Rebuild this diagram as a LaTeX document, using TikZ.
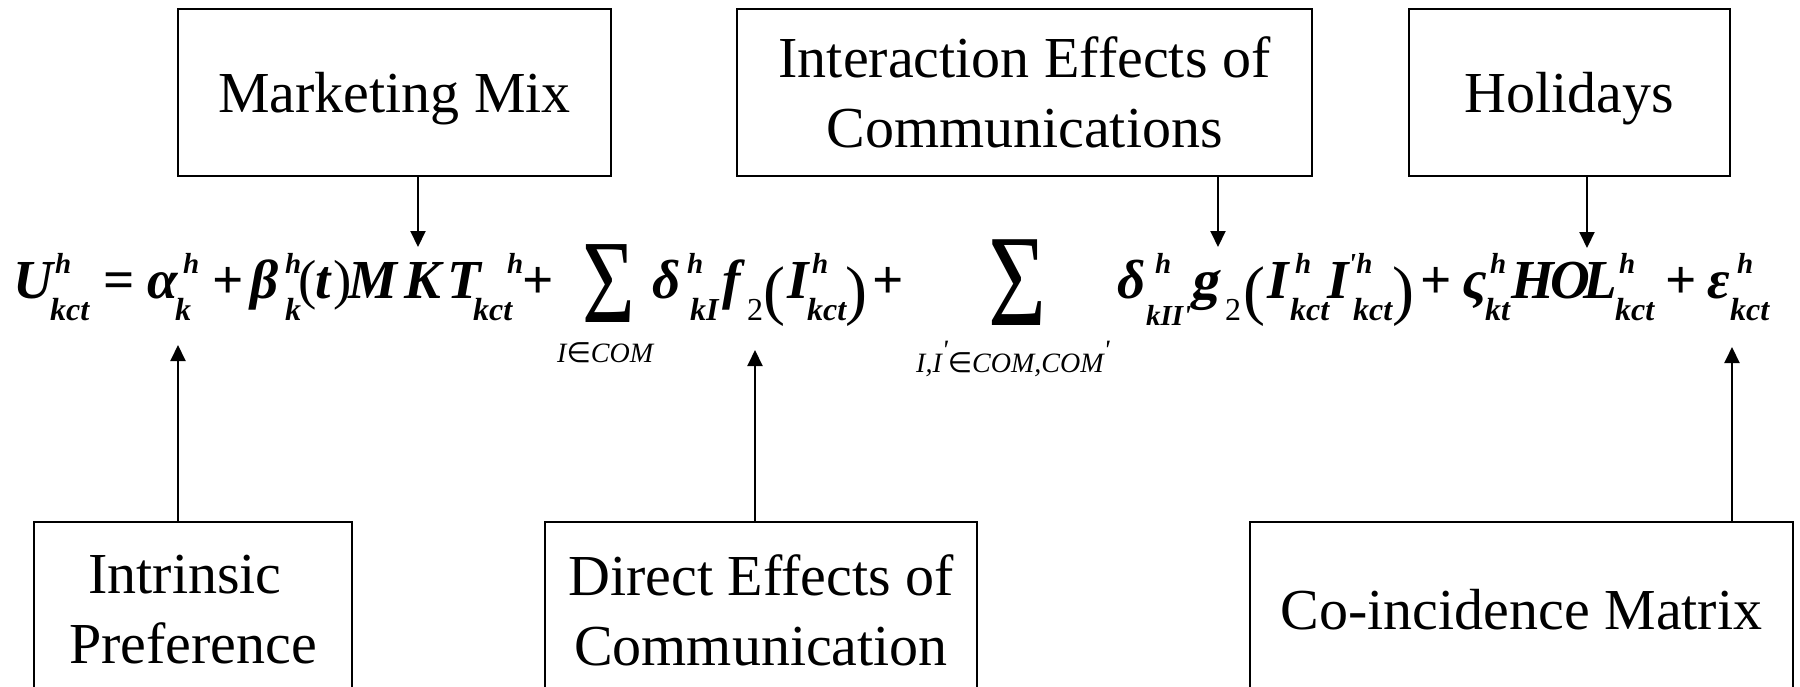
\documentclass[tikz,border=0pt]{standalone}
\usepackage{fontspec}
\setmainfont{Liberation Serif}
\newfontfamily\dejasans{DejaVu Sans}
\usetikzlibrary{arrows.meta}
\tikzset{
  box/.style={draw, line width=2pt, inner sep=0pt, align=center, font=\fontsize{58}{70}\selectfont},
  arr/.style={line width=2pt, -{Triangle[length=16pt,width=15pt]}},
  m/.style={inner sep=0pt, anchor=base west, font=\fontsize{55}{60}\selectfont\bfseries\itshape},
  op/.style={inner sep=0pt, anchor=base west, font=\fontsize{55}{60}\selectfont\bfseries},
  par/.style={inner sep=0pt, anchor=base west, font=\fontsize{55}{60}\selectfont},
  bigpar/.style={inner sep=0pt, anchor=base west, font=\fontsize{66}{70}\selectfont},
  sp/.style={inner sep=0pt, anchor=base west, font=\fontsize{29}{30}\selectfont\bfseries\itshape},
  sb/.style={inner sep=0pt, anchor=base west, font=\fontsize{32}{34}\selectfont\bfseries\itshape},
  sbn/.style={inner sep=0pt, anchor=base west, font=\fontsize{32}{34}\selectfont},
  lim/.style={inner sep=0pt, anchor=base west, font=\fontsize{28}{30}\selectfont\itshape},
  sig/.style={inner sep=0pt, anchor=base west, font=\fontsize{119}{120}\selectfont},
}
\begin{document}
\begin{tikzpicture}[x=1pt,y=-1pt]
\useasboundingbox (0,0) rectangle (1800,686);
\clip (0,0) rectangle (1800,686);
\fill[white] (0,0) rectangle (1800,686);
% boxes
\node[box, text depth=0pt, minimum width=433pt, minimum height=167pt] (mm) at (394.5,92.5) {Marketing Mix};
\node[box, minimum width=575pt, minimum height=167pt] (ie) at (1024.5,92.5) {Interaction Effects of\\Communications};
\node[box, text depth=0pt, minimum width=321pt, minimum height=167pt] (hol) at (1569.5,92.5) {Holidays};
\node[box, minimum width=318pt, minimum height=176pt] (intr) at (193,610) {Intrinsic\hspace*{16pt}\\Preference};
\node[box, minimum width=432pt, minimum height=176pt] (dir) at (761,610) {Direct Effects of\\Communication};
\node[box, minimum width=543pt, minimum height=176pt] (coinc) at (1521.5,610) {Co-incidence Matrix};
% equation
\node[m] (eU) at (13,298) {U};
\node[sp] (eUh) at (55,273) {h};
\node[sb] (eUs) at (50,320) {kct};
\node[op] (eEq) at (103,298) {=};
\node[m] (eA) at (147,298) {α};
\node[sp] (eAh) at (183,273) {h};
\node[sb] (eAs) at (175,320) {k};
\node[op] (eP1) at (212,298) {+};
\node[m] (eB) at (250,298) {β};
\node[sp] (eBh) at (285,273) {h};
\node[sb] (eBs) at (285,320) {k};
\node[par] (eL1) at (298,298) {(};
\node[m] (eT) at (315,298) {t};
\node[par] (eR1) at (333,298) {)};
\node[m] (eM) at (348,298) {M};
\node[m] (eK) at (404,298) {K};
\node[m] (eTT) at (447,298) {T};
\node[sp] (eMKTh) at (507,273) {h};
\node[sb] (eMKTs) at (473,320) {kct};
\node[op] (eP2) at (522,298) {+};
\node[sig] (eS1) at (582,322) {\scalebox{0.76}[1]{Σ}};
\node[lim] (eS1l) at (557,362) {I{\dejasans\upshape ∈}COM};
\node[m] (eD1) at (652,298) {δ};
\node[sp] (eD1h) at (687,273) {h};
\node[sb] (eD1s) at (690,320) {kI};
\node[m] (eF) at (722,298) {f};
\node[sbn] (eF2) at (747,320) {2};
\node[bigpar] (eL2) at (763,312) {(};
\node[m] (eI1) at (787,298) {I};
\node[sp] (eI1h) at (812,273) {h};
\node[sb] (eI1s) at (807,320) {kct};
\node[bigpar] (eR2) at (845,312) {)};
\node[op] (eP3) at (872,298) {+};
\node[sig] (eS2) at (988,325) {\fontsize{131}{132}\selectfont\scalebox{0.76}[1]{Σ}};
\node[lim] (eS2l) at (916,372) {I,I\raisebox{13pt}{\textquotesingle}{\dejasans\upshape ∈}COM,COM\raisebox{13pt}{\textquotesingle}};
\node[m] (eD2) at (1117,298) {δ};
\node[sp] (eD2h) at (1155,273) {h};
\node[sb, font=\fontsize{29}{30}\selectfont\bfseries\itshape] (eD2s) at (1146,325) {kII\textquotesingle};
\node[op, xslant=0.18, transform shape] (eG) at (1190,298) {g};
\node[sbn] (eG2) at (1225,320) {2};
\node[bigpar] (eL3) at (1243,312) {(};
\node[m] (eI2) at (1267,298) {I};
\node[sp] (eI2h) at (1295,273) {h};
\node[sb] (eI2s) at (1290,320) {kct};
\node[m] (eI3) at (1327,298) {I};
\node[sp] (eI3h) at (1348,273) {\textquotesingle h};
\node[sb] (eI3s) at (1353,320) {kct};
\node[bigpar] (eR3) at (1392,312) {)};
\node[op] (eP4) at (1420,298) {+};
\node[m] (eZ) at (1462,298) {ς};
\node[sp] (eZh) at (1490,273) {h};
\node[sb] (eZs) at (1485,320) {kt};
\node[m] (eH) at (1511,298) {H};
\node[m] (eO) at (1550,298) {O};
\node[m] (eL) at (1583,298) {L};
\node[sp] (eHOLh) at (1619,273) {h};
\node[sb] (eHOLs) at (1615,320) {kct};
\node[op] (eP5) at (1665,298) {+};
\node[m] (eE) at (1707,298) {ε};
\node[sp] (eEh) at (1737,273) {h};
\node[sb] (eEs) at (1730,320) {kct};
% arrow tips
\coordinate (tMKT) at (418,247);
\coordinate (tG) at (1218,247);
\coordinate (tHOL) at (1587,248);
\coordinate (tA) at (178,345);
\coordinate (tF) at (755,350);
\coordinate (tE) at (1732,347);
\draw[arr] (mm.south -| tMKT) -- (tMKT);
\draw[arr] (ie.south -| tG) -- (tG);
\draw[arr] (hol.south -| tHOL) -- (tHOL);
\draw[arr] (intr.north -| tA) -- (tA);
\draw[arr] (dir.north -| tF) -- (tF);
\draw[arr] (coinc.north -| tE) -- (tE);
\end{tikzpicture}
\end{document}
